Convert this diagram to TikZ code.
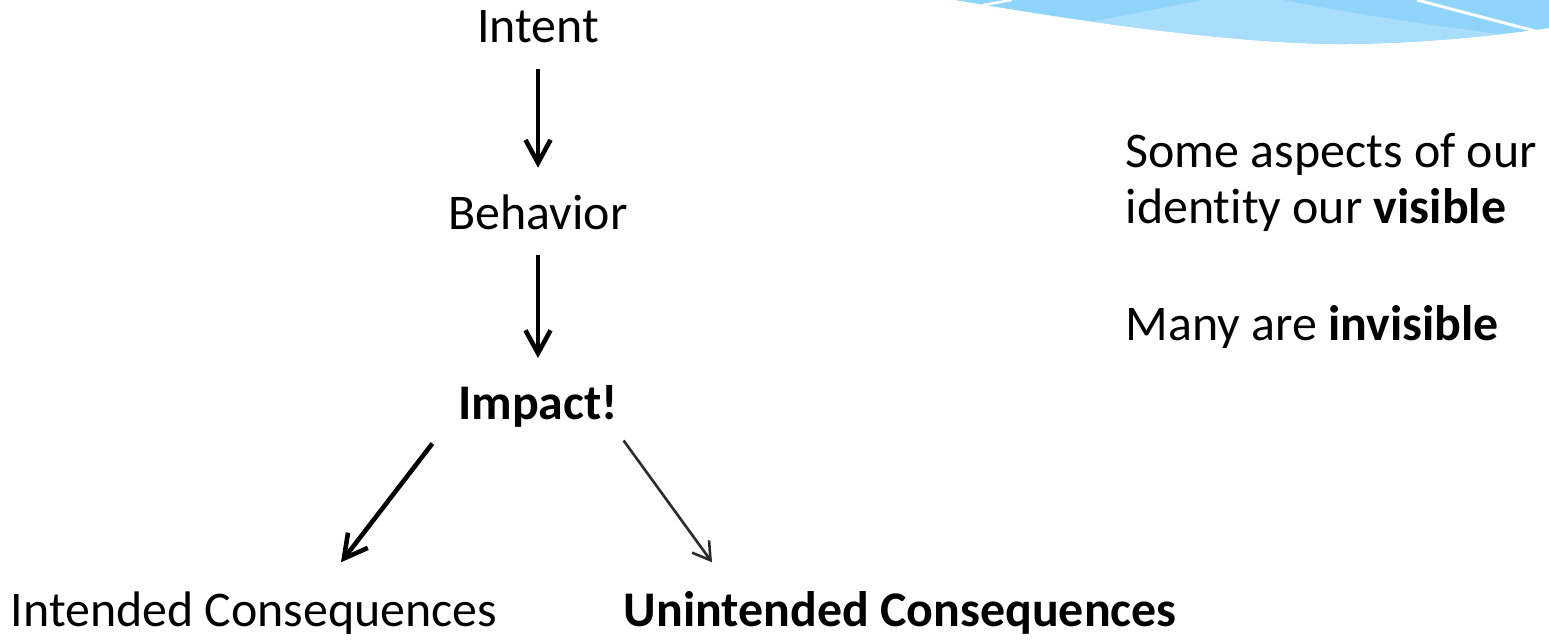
\documentclass[tikz,border=0pt]{standalone}
\usepackage{fontspec}
\setmainfont[RawFeature={-liga;-clig;-dlig;-calt}]{Carlito}
\usetikzlibrary{positioning,arrows.meta}
\definecolor{swooshblue}{RGB}{143,212,250}
\definecolor{swooshlight}{RGB}{168,221,251}
\definecolor{arrowgray}{RGB}{45,45,45}

\begin{document}
\begin{tikzpicture}[
    node distance=1.4cm,
    word/.style={inner sep=0pt, text height=0.36cm, text depth=0.1cm, font=\fontsize{14.2}{16}\selectfont},
    arrow/.style={-{Straight Barb[length=2.3mm,width=2.5mm]}, line width=1.3pt},
    thinarrow/.style={-{Straight Barb[length=1.7mm,width=2.1mm]}, line width=0.75pt, draw=arrowgray}
  ]
  \useasboundingbox (0,0) rectangle (15.49,-6.42);

  % corner swoosh
  \begin{scope}
    \path[clip] (9.55,0) .. controls (11.0,-0.25) and (12.5,-0.45) .. (13.5,-0.44)
      .. controls (14.3,-0.43) and (15.0,-0.35) .. (15.49,-0.28) -- (15.49,0) -- cycle;
    \fill[swooshblue] (9.5,0.1) rectangle (15.6,-0.6);
    \fill[swooshlight] (10.9,-0.22) -- (12.03,0) -- (12.83,0) .. controls (13.6,-0.15) and (14.4,-0.27) .. (15.1,-0.35)
      -- (15.1,-0.6) -- (10.9,-0.6) -- cycle;
  \end{scope}
  \draw[white, line width=0.7pt] (9.83,-0.05) -- (10.12,0);
  \draw[white, line width=0.85pt] (14.17,0) -- (15.35,-0.31);

  \node[word, anchor=base] (intent) at (5.38,-0.43) {Intent};
  \node[word, below=1.39cm of intent] (behavior) {Behavior};
  \node[word, below=1.43cm of behavior] (impact) {\textbf{Impact!}};

  \node[word, anchor=base west] (intended) at (0.10,-6.27) {Intended Consequences};
  \node[word, anchor=base west] (unintended) at (6.23,-6.27) {\textbf{Unintended Consequences}};

  \node[word, anchor=base west] (some) at (11.25,-1.68) {Some aspects of our};
  \node[word, below=0.08cm of some.south west, anchor=north west] (identity) {identity our \textbf{visible}};
  \node[word, below=0.70cm of identity.south west, anchor=north west] (many) {Many are \textbf{invisible}};

  \draw[arrow, shorten <=0.15cm, shorten >=0.25cm] (intent.south) -- (behavior.north);
  \draw[arrow, shorten <=0.15cm, shorten >=0.25cm] (behavior.south) -- (impact.north);

  \draw[arrow] ([xshift=-0.25cm,yshift=-0.13cm]impact.south west) -- ([xshift=0.87cm,yshift=0.28cm]intended.north);
  \draw[thinarrow] ([xshift=0.05cm,yshift=-0.10cm]impact.south east) -- ([xshift=0.89cm,yshift=0.28cm]unintended.north west);
\end{tikzpicture}
\end{document}
